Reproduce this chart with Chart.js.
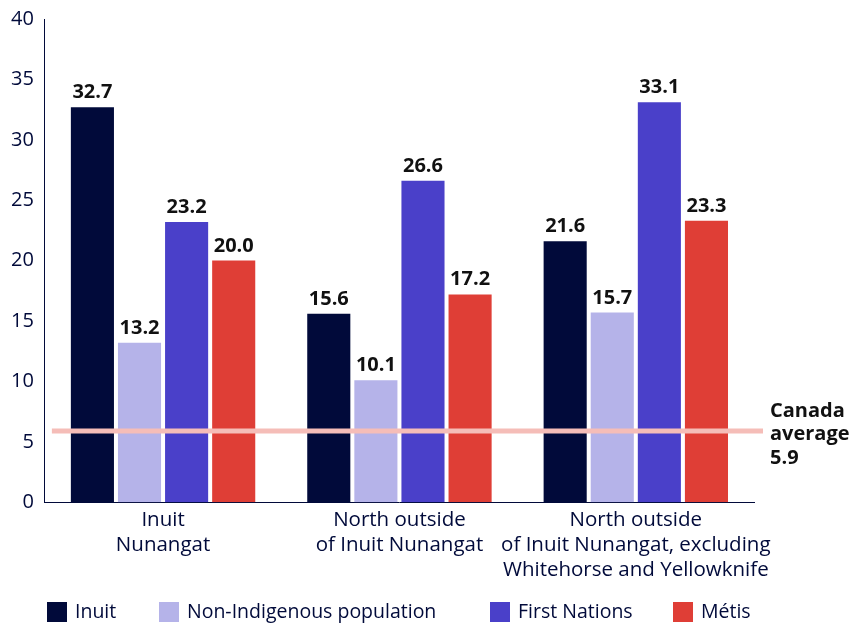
<!DOCTYPE html>
<html>
<head>
<meta charset="utf-8">
<script src="https://cdn.jsdelivr.net/npm/chart.js@4/dist/chart.umd.min.js"></script>
<style>
  html, body { margin: 0; padding: 0; background: #ffffff; }
  #wrap { width: 854px; height: 628px; }
</style>
</head>
<body>
<div id="wrap"><canvas id="chart" width="854" height="628"></canvas></div>
<script>
// Regions (multi-line category labels)
const categories = [
  ["Inuit", "Nunangat"],
  ["North outside", "of Inuit Nunangat"],
  ["North outside", "of Inuit Nunangat, excluding", "Whitehorse and Yellowknife"]
];

// Series values (percent)
const seriesNames = ["Inuit", "Non-Indigenous population", "First Nations", "Métis"];
const inuitValues = [32.7, 15.6, 21.6];
const nonIndigenousValues = [13.2, 10.1, 15.7];
const firstNationsValues = [23.2, 26.6, 33.1];
const metisValues = [20.0, 17.2, 23.3];

// Reference line
const canadaAverage = 5.9;
const canadaLabel = ["Canada", "average", "5.9"];

// Axis ticks
const yMin = 0;
const yMax = 40;
const yStep = 5;

const NAVY = "#010a3a";
const FONT = "'Open Sans', Lato, sans-serif";
const seriesColors = ["#010a3a", "#b5b3e9", "#4a40c9", "#df3e36"];

// Value labels above each bar
const valueLabels = {
  id: "valueLabels",
  afterDatasetsDraw(chart) {
    const ctx = chart.ctx;
    ctx.save();
    ctx.font = "bold 20px " + FONT;
    ctx.fillStyle = "#111111";
    ctx.textAlign = "center";
    ctx.textBaseline = "alphabetic";
    chart.data.datasets.forEach((ds, i) => {
      const meta = chart.getDatasetMeta(i);
      meta.data.forEach((bar, j) => {
        ctx.fillText(ds.data[j].toFixed(1), bar.x, bar.y - 9);
      });
    });
    ctx.restore();
  }
};

// Canada average line with its label
const averageLine = {
  id: "averageLine",
  afterDatasetsDraw(chart) {
    const ctx = chart.ctx;
    const area = chart.chartArea;
    const y = chart.scales.y.getPixelForValue(canadaAverage);
    ctx.save();
    ctx.strokeStyle = "#f5bdb8";
    ctx.lineWidth = 5;
    ctx.beginPath();
    ctx.moveTo(area.left + 7, y);
    ctx.lineTo(area.right + 9, y);
    ctx.stroke();
    ctx.font = "bold 20px " + FONT;
    ctx.fillStyle = "#111111";
    ctx.textAlign = "left";
    ctx.textBaseline = "alphabetic";
    const x = area.right + 16;
    canadaLabel.forEach((t, k) => {
      ctx.fillText(t, x, y - 14 + k * 23.5);
    });
    ctx.restore();
  }
};

// Legend row along the bottom
const legendRow = {
  id: "legendRow",
  afterDraw(chart) {
    const ctx = chart.ctx;
    ctx.save();
    ctx.font = "19.5px " + FONT;
    ctx.textBaseline = "middle";
    ctx.textAlign = "left";
    const starts = [47, 159, 490, 673];
    const yTop = 602, boxW = 20, boxH = 20;
    let prevEnd = 0;
    chart.data.datasets.forEach((ds, i) => {
      const x = Math.max(starts[i], prevEnd + 30);
      ctx.fillStyle = ds.backgroundColor;
      ctx.fillRect(x, yTop, boxW, boxH);
      ctx.fillStyle = NAVY;
      ctx.fillText(ds.label, x + boxW + 8, yTop + boxH / 2);
      prevEnd = x + boxW + 8 + ctx.measureText(ds.label).width;
    });
    ctx.restore();
  }
};

const valueSets = [inuitValues, nonIndigenousValues, firstNationsValues, metisValues];

new Chart(document.getElementById("chart"), {
  type: "bar",
  data: {
    labels: categories,
    datasets: seriesNames.map((name, i) => ({
      label: name,
      data: valueSets[i],
      backgroundColor: seriesColors[i],
      borderWidth: 0,
      categoryPercentage: 0.797,
      barPercentage: 0.915
    }))
  },
  options: {
    responsive: false,
    animation: false,
    layout: { padding: { top: 0, left: 0, right: 100, bottom: 40 } },
    plugins: {
      legend: { display: false },
      tooltip: { enabled: false }
    },
    scales: {
      x: {
        grid: { display: false, drawTicks: false },
        border: { display: true, color: NAVY, width: 1 },
        ticks: {
          color: NAVY,
          font: { family: FONT, size: 20.5, lineHeight: 1.2 },
          padding: 6,
          maxRotation: 0,
          autoSkip: false
        }
      },
      y: {
        min: yMin,
        max: yMax,
        grid: { display: false, drawTicks: false },
        border: { display: true, color: NAVY, width: 1 },
        ticks: {
          stepSize: yStep,
          color: NAVY,
          font: { family: FONT, size: 20, lineHeight: 0.8 },
          padding: 11
        }
      }
    }
  },
  plugins: [valueLabels, averageLine, legendRow]
});
</script>
</body>
</html>
